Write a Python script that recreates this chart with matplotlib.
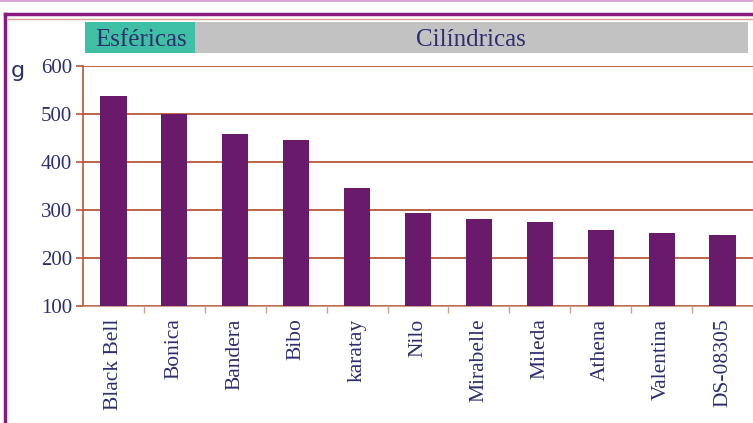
import matplotlib
matplotlib.use("Agg")
import matplotlib.pyplot as plt
from matplotlib.patches import Rectangle
from matplotlib.lines import Line2D

categories = ["Black Bell", "Bonica", "Bandera", "Bibo", "karatay", "Nilo",
              "Mirabelle", "Mileda", "Athena", "Valentina", "DS-08305"]
values = [538, 499, 459, 446, 345, 293, 282, 275, 258, 252, 248]
yticks = [100, 200, 300, 400, 500, 600]
groups = ["Esféricas", "Cilíndricas"]

W, H = 753, 423
fig = plt.figure(figsize=(W / 100, H / 100), dpi=100)
fig.patch.set_facecolor("white")

def fx(px):
    return px / W

def fy(py):
    return 1 - py / H

text_color = "#2e2e6e"
grid_color = "#b5583a"
bar_color = "#6a1a6a"

ax = fig.add_axes([fx(83), fy(306), fx(753) - fx(83), fy(66) - fy(306)])
x = list(range(len(categories)))
ax.bar(x, values, width=0.43, color=bar_color, zorder=3, bottom=0)
ax.set_ylim(100, 600)
ax.set_xlim(-0.5, len(categories) - 0.5)
ax.set_yticks(yticks)
ax.set_yticklabels([str(v) for v in yticks], family="Liberation Serif",
                   fontsize=15, color=text_color)
ax.yaxis.grid(True, color=grid_color, linewidth=1.3, zorder=0)
ax.set_xticks(x)
ax.set_xticklabels(categories, rotation=90, family="Liberation Serif",
                   fontsize=15.5, color=text_color)
ax.tick_params(axis="x", length=0, pad=9)
ax.set_xticks([i + 0.5 for i in x[:-1]], minor=True)
ax.tick_params(axis="x", which="minor", length=5, color="#c9a08a", width=1)
ax.tick_params(axis="y", length=5, color=grid_color, width=1.2, pad=3)
for s in ["top", "right"]:
    ax.spines[s].set_visible(False)
ax.spines["left"].set_color(grid_color)
ax.spines["bottom"].set_color("#c9a08a")
ax.spines["left"].set_linewidth(1.2)
ax.set_facecolor("white")

# unit label
fig.text(fx(18), fy(71), "g", fontsize=16, color=text_color,
         family="DejaVu Sans", ha="center", va="center")

# header bands
fig.patches.append(Rectangle((fx(85), fy(53)), fx(195) - fx(85), fy(22) - fy(53),
                             transform=fig.transFigure, facecolor="#3fbfa5",
                             edgecolor="none"))
fig.patches.append(Rectangle((fx(195), fy(53)), fx(748) - fx(195), fy(22) - fy(53),
                             transform=fig.transFigure, facecolor="#c2c2c2",
                             edgecolor="none"))
fig.text(fx(141), fy(40), groups[0], family="Liberation Serif", fontsize=18,
         color=text_color, ha="center", va="center")
fig.text(fx(471), fy(40), groups[1], family="Liberation Serif", fontsize=18,
         color=text_color, ha="center", va="center")

# frame lines
fig.lines.append(Line2D([0, 1], [fy(1), fy(1)], transform=fig.transFigure,
                        color="#dba6d6", linewidth=1.5))
fig.lines.append(Line2D([fx(5), 1], [fy(14), fy(14)], transform=fig.transFigure,
                        color="#8a1a7e", linewidth=2.5))
fig.lines.append(Line2D([fx(8), 1], [fy(19), fy(19)], transform=fig.transFigure,
                        color="#e0a090", linewidth=1.0))
fig.lines.append(Line2D([fx(5), fx(5)], [fy(14), 0], transform=fig.transFigure,
                        color="#8a1a7e", linewidth=2.5))

fig.savefig("out.png", dpi=100, facecolor="white")
